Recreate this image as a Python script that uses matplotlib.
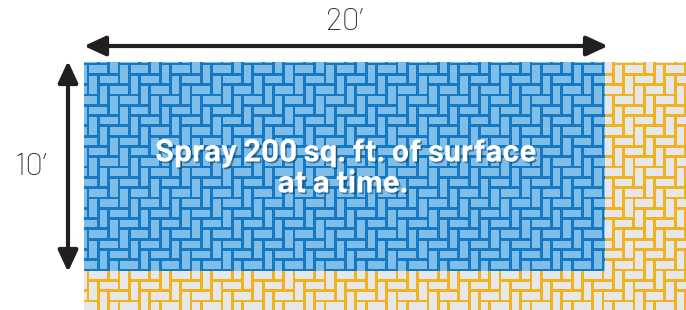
import matplotlib
matplotlib.use("Agg")
import matplotlib.pyplot as plt
from matplotlib.patches import Rectangle, FancyArrowPatch
from matplotlib.collections import PatchCollection
import matplotlib.patheffects as pe

# ---- content ----
width_label = "20\u2019"
height_label = "10\u2019"
message_lines = ["Spray 200 sq. ft. of surface", "at a time."]

# colours
blue_brick = "#7ebee9"
blue_grout = "#1479c2"
yel_brick = "#e6e7e8"
yel_grout = "#f0b21e"
arrow_col = "#231f20"

W, H = 686, 310
fig = plt.figure(figsize=(W / 100, H / 100), dpi=100)
ax = fig.add_axes([0, 0, 1, 1])
ax.set_xlim(0, W)
ax.set_ylim(H, 0)
ax.axis("off")

# layout (pixel space)
blue_rect = (84, 62, 605, 271)   # x0, y0, x1, y1
yel_rect = (84, 62, 686, 310)
u = 10.3
x0, y0 = 88.0, 64.0
g = 2.8


def bricks():
    out = []
    for k in range(-40, 40):
        for n in range(-25, 25):
            px = x0 + 4 * u * n + u * k
            py = y0 + u * k
            out.append((px, py, 2 * u, u))
            out.append((px, py + u, u, 2 * u))
    return out


all_b = [b for b in bricks()
         if b[0] < yel_rect[2] + 5 and b[0] + b[2] > yel_rect[0] - 5
         and b[1] < yel_rect[3] + 5 and b[1] + b[3] > yel_rect[1] - 5]


def draw_tiling(rect, brick_c, grout_c, z):
    rx0, ry0, rx1, ry1 = rect
    clip = Rectangle((rx0, ry0), rx1 - rx0, ry1 - ry0, transform=ax.transData)
    bg = Rectangle((rx0, ry0), rx1 - rx0, ry1 - ry0, facecolor=grout_c,
                   edgecolor="none", zorder=z)
    ax.add_patch(bg)
    pats = [Rectangle((bx + g / 2, by + g / 2), bw - g, bh - g) for bx, by, bw, bh in all_b]
    pc = PatchCollection(pats, facecolor=brick_c, edgecolor="none", zorder=z + 0.1)
    ax.add_collection(pc)
    pc.set_clip_path(clip)


draw_tiling(yel_rect, yel_brick, yel_grout, 1)
draw_tiling(blue_rect, blue_brick, blue_grout, 2)

# arrows
shadow = [pe.SimplePatchShadow(offset=(1.2, -1.2), alpha=0.2), pe.Normal()]
for (a, b) in [((84, 46), (608, 46)), ((68, 61), (68, 272))]:
    arr = FancyArrowPatch(a, b, arrowstyle="<|-|>,head_length=1.3,head_width=0.6",
                          mutation_scale=10, lw=3.0, color=arrow_col, zorder=5,
                          shrinkA=0, shrinkB=0)
    arr.set_path_effects(shadow)
    ax.add_patch(arr)

lbl_font = ["Barlow", "DejaVu Sans"]
ax.text(345, 22, width_label, fontsize=23, family=lbl_font, color=arrow_col,
        ha="center", va="center", zorder=6, fontweight="light")
ax.text(31, 167, height_label, fontsize=23, family=lbl_font, color=arrow_col,
        ha="center", va="center", zorder=6, fontweight="light")

# message text, fitted to measured width
msg_font = ["Barlow", "DejaVu Sans"]
txt_pe = [pe.withSimplePatchShadow(offset=(1.2, -1.2), shadow_rgbFace="#0b3a66", alpha=0.55)]
t1 = ax.text(346, 153, message_lines[0], fontsize=20, family=msg_font,
             fontweight="bold", color="white", ha="center", va="center", zorder=7)
t2 = ax.text(343, 184, message_lines[1], fontsize=20, family=msg_font,
             fontweight="bold", color="white", ha="center", va="center", zorder=7)
fig.canvas.draw()
r = fig.canvas.get_renderer()
w1 = t1.get_window_extent(r).width
fs = 20 * 382 / w1
for t in (t1, t2):
    t.set_fontsize(fs)
    t.set_path_effects(txt_pe)

fig.savefig("out.png", dpi=100)
